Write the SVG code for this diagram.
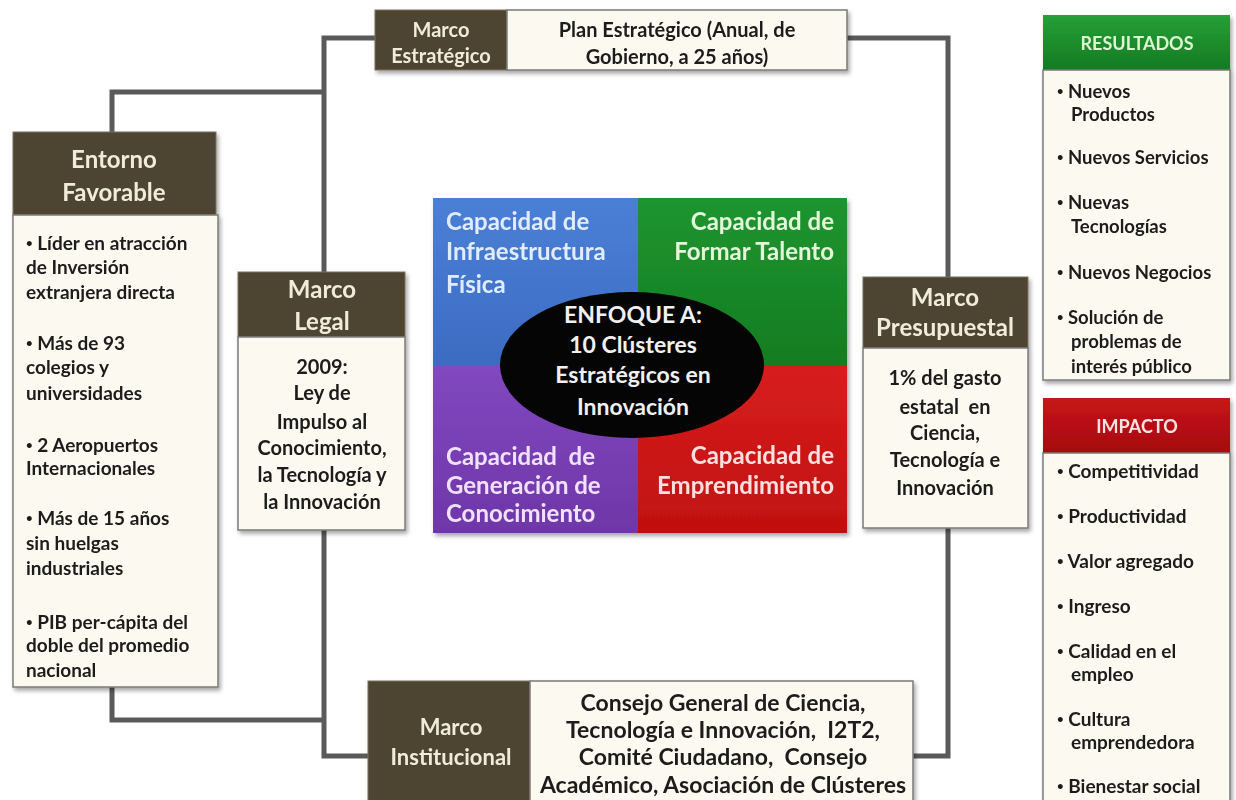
<svg xmlns="http://www.w3.org/2000/svg" width="1236" height="800" viewBox="0 0 1236 800">
<defs>
<filter id="sh" x="-10%" y="-10%" width="130%" height="130%">
<feDropShadow dx="2" dy="3" stdDeviation="2" flood-color="#000" flood-opacity="0.35"/>
</filter>
<linearGradient id="gBlue" x1="0" y1="0" x2="0" y2="1"><stop offset="0" stop-color="#4a80d6"/><stop offset="1" stop-color="#3b6cc2"/></linearGradient>
<linearGradient id="gGreen" x1="0" y1="0" x2="0" y2="1"><stop offset="0" stop-color="#1f9530"/><stop offset="1" stop-color="#137c22"/></linearGradient>
<linearGradient id="gPurple" x1="0" y1="0" x2="0" y2="1"><stop offset="0" stop-color="#8248bf"/><stop offset="1" stop-color="#6e36a8"/></linearGradient>
<linearGradient id="gRed" x1="0" y1="0" x2="0" y2="1"><stop offset="0" stop-color="#d81e1e"/><stop offset="1" stop-color="#c01010"/></linearGradient>
<linearGradient id="gHdrG" x1="0" y1="0" x2="0" y2="1"><stop offset="0" stop-color="#25a036"/><stop offset="1" stop-color="#157a23"/></linearGradient>
<linearGradient id="gHdrR" x1="0" y1="0" x2="0" y2="1"><stop offset="0" stop-color="#c8141a"/><stop offset="1" stop-color="#a50b0e"/></linearGradient>
</defs>
<style>
text{font-family:Lato,"Open Sans","Liberation Sans",sans-serif;font-weight:bold}
.hdr{fill:#4e4530;stroke:#7a7060;stroke-width:1}
.body{fill:#fbf9f0;stroke:#7a7a7a;stroke-width:1.5}
.ht{fill:#f1ecd9;text-anchor:middle}
.bt{fill:#1c1c1c}
.c{text-anchor:middle}
.conn{fill:none;stroke:#5a5a5a;stroke-width:5;stroke-linejoin:miter}
.q{font-size:24px}
.b{font-size:0.6em}
</style>
<rect width="1236" height="800" fill="#ffffff"/>

<g id="connectors">
<path class="conn" d="M375 38 H324 V272"/>
<path class="conn" d="M112 132 V92 H324"/>
<path class="conn" d="M324 530 V756 H368"/>
<path class="conn" d="M112 687 V720 H324"/>
<path class="conn" d="M847 38 H948 V277"/>
<path class="conn" d="M948 528 V756 H913"/>
</g>

<g id="marco-estrategico" filter="url(#sh)">
<rect class="hdr" x="375" y="10" width="132" height="60"/>
<rect class="body" x="507" y="10" width="340" height="60"/>
<text class="ht" font-size="20" x="441" y="37">Marco</text>
<text class="ht" font-size="20" x="441" y="63">Estratégico</text>
<text class="bt c" font-size="20" x="677" y="37">Plan Estratégico (Anual, de</text>
<text class="bt c" font-size="20" x="677" y="64">Gobierno, a 25 años)</text>
</g>

<g id="entorno-favorable" filter="url(#sh)">
<rect class="hdr" x="13" y="132" width="203" height="83"/>
<rect class="body" x="13" y="215" width="205" height="472"/>
<text class="ht" font-size="24" x="114" y="168">Entorno</text>
<text class="ht" font-size="24" x="114" y="201">Favorable</text>
<g class="bt" font-size="19">
<text x="26" y="250"><tspan class="b" dy="-3">•</tspan><tspan dy="3"> Líder en atracción</tspan></text>
<text x="26" y="274">de Inversión</text>
<text x="26" y="299">extranjera directa</text>
<text x="26" y="350"><tspan class="b" dy="-3">•</tspan><tspan dy="3"> Más de 93</tspan></text>
<text x="26" y="374">colegios y</text>
<text x="26" y="400">universidades</text>
<text x="26" y="452"><tspan class="b" dy="-3">•</tspan><tspan dy="3"> 2 Aeropuertos</tspan></text>
<text x="26" y="475">Internacionales</text>
<text x="26" y="525"><tspan class="b" dy="-3">•</tspan><tspan dy="3"> Más de 15 años</tspan></text>
<text x="26" y="550">sin huelgas</text>
<text x="26" y="575">industriales</text>
<text x="26" y="629"><tspan class="b" dy="-3">•</tspan><tspan dy="3"> PIB per-cápita del</tspan></text>
<text x="26" y="652">doble del promedio</text>
<text x="26" y="677">nacional</text>
</g>
</g>

<g id="marco-legal" filter="url(#sh)">
<rect class="hdr" x="238" y="272" width="167" height="65"/>
<rect class="body" x="238" y="337" width="167" height="193"/>
<text class="ht" font-size="24" x="322" y="298">Marco</text>
<text class="ht" font-size="24" x="322" y="330">Legal</text>
<g class="bt c" font-size="20">
<text x="322" y="374">2009:</text>
<text x="322" y="400">Ley de</text>
<text x="322" y="429">Impulso al</text>
<text x="322" y="455">Conocimiento,</text>
<text x="322" y="482">la Tecnología y</text>
<text x="322" y="509">la Innovación</text>
</g>
</g>

<g id="capacidades" filter="url(#sh)">
<rect x="433" y="198" width="205" height="167" fill="url(#gBlue)"/>
<rect x="638" y="198" width="209" height="167" fill="url(#gGreen)"/>
<rect x="433" y="365" width="205" height="168" fill="url(#gPurple)"/>
<rect x="638" y="365" width="209" height="168" fill="url(#gRed)"/>
<text class="q" fill="#e2ecff" x="446" y="230">Capacidad de</text>
<text class="q" fill="#e2ecff" x="446" y="260">Infraestructura</text>
<text class="q" fill="#e2ecff" x="446" y="293">Física</text>
<text class="q" fill="#e2f6da" x="834" y="230" text-anchor="end">Capacidad de</text>
<text class="q" fill="#e2f6da" x="834" y="260" text-anchor="end">Formar Talento</text>
<text class="q" fill="#f0e2ff" x="446" y="465" xml:space="preserve">Capacidad  de</text>
<text class="q" fill="#f0e2ff" x="446" y="494">Generación de</text>
<text class="q" fill="#f0e2ff" x="446" y="522">Conocimiento</text>
<text class="q" fill="#ffe0e0" x="834" y="464" text-anchor="end">Capacidad de</text>
<text class="q" fill="#ffe0e0" x="834" y="494" text-anchor="end">Emprendimiento</text>
</g>

<g id="enfoque">
<ellipse cx="632" cy="365" rx="132" ry="73" fill="#050505"/>
<g class="c" font-size="23" fill="#f0f0f0">
<text x="633" y="323">ENFOQUE A:</text>
<text x="633" y="353">10 Clústeres</text>
<text x="633" y="383">Estratégicos en</text>
<text x="633" y="415">Innovación</text>
</g>
</g>

<g id="marco-presupuestal" filter="url(#sh)">
<rect class="hdr" x="863" y="277" width="165" height="71"/>
<rect class="body" x="863" y="348" width="165" height="180"/>
<text class="ht" font-size="24" x="945" y="306">Marco</text>
<text class="ht" font-size="24" x="945" y="336">Presupuestal</text>
<g class="bt c" font-size="20">
<text x="945" y="385">1% del gasto</text>
<text x="945" y="414" xml:space="preserve">estatal  en</text>
<text x="945" y="440">Ciencia,</text>
<text x="945" y="467">Tecnología e</text>
<text x="945" y="495">Innovación</text>
</g>
</g>

<g id="marco-institucional" filter="url(#sh)">
<rect class="hdr" x="368" y="681" width="162" height="125"/>
<rect class="body" x="530" y="681" width="383" height="125"/>
<text class="ht" font-size="22" x="451" y="735">Marco</text>
<text class="ht" font-size="22" x="451" y="765">Institucional</text>
<g class="bt c" font-size="23">
<text x="723" y="711">Consejo General de Ciencia,</text>
<text x="723" y="738" xml:space="preserve">Tecnología e Innovación,  I2T2,</text>
<text x="723" y="765" xml:space="preserve">Comité Ciudadano,  Consejo</text>
<text x="723" y="793">Académico, Asociación de Clústeres</text>
</g>
</g>

<g id="resultados" filter="url(#sh)">
<rect x="1043" y="15" width="187" height="55" fill="url(#gHdrG)"/>
<rect class="body" x="1043" y="70" width="187" height="310"/>
<text class="c" font-size="18" fill="#dcf5d2" x="1137" y="50">RESULTADOS</text>
<g class="bt" font-size="18.5">
<text x="1057" y="98"><tspan class="b" dy="-3">•</tspan><tspan dy="3"> Nuevos</tspan></text>
<text x="1071" y="121">Productos</text>
<text x="1057" y="164"><tspan class="b" dy="-3">•</tspan><tspan dy="3"> Nuevos Servicios</tspan></text>
<text x="1057" y="209"><tspan class="b" dy="-3">•</tspan><tspan dy="3"> Nuevas</tspan></text>
<text x="1071" y="233">Tecnologías</text>
<text x="1057" y="279"><tspan class="b" dy="-3">•</tspan><tspan dy="3"> Nuevos Negocios</tspan></text>
<text x="1057" y="324"><tspan class="b" dy="-3">•</tspan><tspan dy="3"> Solución de</tspan></text>
<text x="1071" y="348">problemas de</text>
<text x="1071" y="373">interés público</text>
</g>
</g>

<g id="impacto" filter="url(#sh)">
<rect x="1043" y="398" width="187" height="55" fill="url(#gHdrR)"/>
<rect class="body" x="1043" y="453" width="187" height="360"/>
<text class="c" font-size="18" fill="#fbe2e2" x="1137" y="433">IMPACTO</text>
<g class="bt" font-size="19">
<text x="1057" y="478"><tspan class="b" dy="-3">•</tspan><tspan dy="3"> Competitividad</tspan></text>
<text x="1057" y="523"><tspan class="b" dy="-3">•</tspan><tspan dy="3"> Productividad</tspan></text>
<text x="1057" y="568"><tspan class="b" dy="-3">•</tspan><tspan dy="3"> Valor agregado</tspan></text>
<text x="1057" y="613"><tspan class="b" dy="-3">•</tspan><tspan dy="3"> Ingreso</tspan></text>
<text x="1057" y="658"><tspan class="b" dy="-3">•</tspan><tspan dy="3"> Calidad en el</tspan></text>
<text x="1071" y="681">empleo</text>
<text x="1057" y="726"><tspan class="b" dy="-3">•</tspan><tspan dy="3"> Cultura</tspan></text>
<text x="1071" y="749">emprendedora</text>
<text x="1057" y="793"><tspan class="b" dy="-3">•</tspan><tspan dy="3"> Bienestar social</tspan></text>
</g>
</g>
</svg>
